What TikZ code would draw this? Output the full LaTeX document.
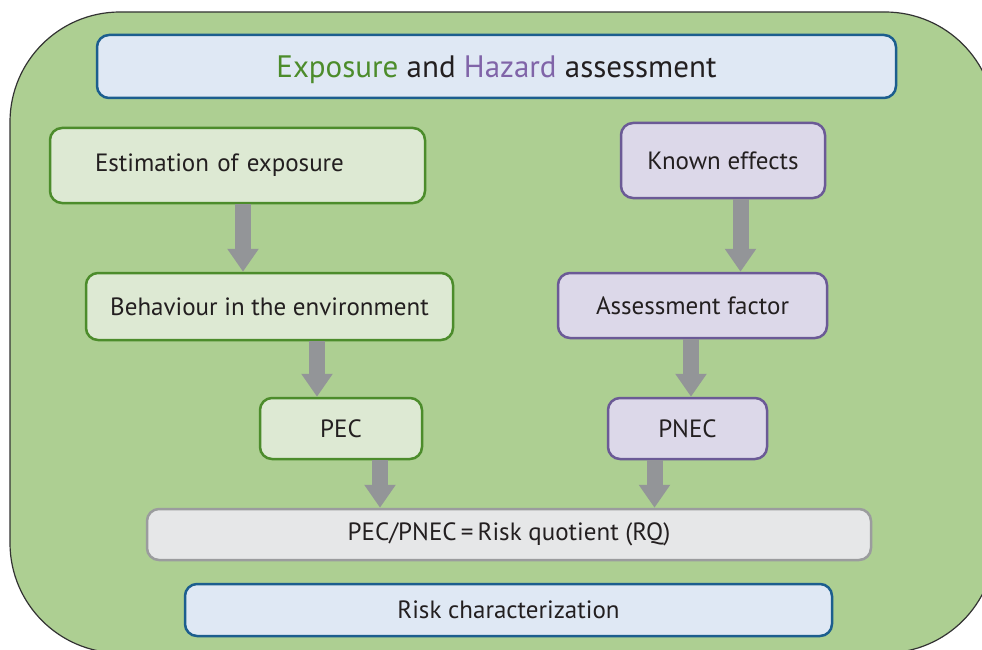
\documentclass[tikz,border=0pt]{standalone}
\usepackage{fontspec}
\setmainfont{PT Sans}
\usetikzlibrary{arrows.meta, positioning}
\definecolor{bgouter}{RGB}{173, 207, 146}
\definecolor{greenfill}{RGB}{221, 233, 211}
\definecolor{greenline}{RGB}{76, 140, 43}
\definecolor{purplefill}{RGB}{220, 216, 233}
\definecolor{purpleline}{RGB}{107, 90, 150}
\definecolor{bluefill}{RGB}{223, 232, 244}
\definecolor{blueline}{RGB}{28, 94, 142}
\definecolor{grayfill}{RGB}{230, 231, 232}
\definecolor{grayline}{RGB}{155, 156, 158}
\definecolor{arrowgray}{RGB}{147, 149, 152}
\definecolor{textdark}{RGB}{35, 31, 32}
\definecolor{hazardpurple}{RGB}{128, 100, 168}
\tikzset{
    greenbox/.style={rectangle, draw=greenline, fill=greenfill, text=textdark, line width=2.5pt, rounded corners=12pt, align=center, font=\fontsize{25}{30}\selectfont},
    purplebox/.style={rectangle, draw=purpleline, fill=purplefill, text=textdark, line width=2.5pt, rounded corners=12pt, align=center, font=\fontsize{25}{30}\selectfont},
    bluebox/.style={rectangle, draw=blueline, fill=bluefill, text=textdark, line width=2.5pt, rounded corners=12pt, align=center, font=\fontsize{25}{30}\selectfont},
    graybox/.style={rectangle, draw=grayline, fill=grayfill, text=textdark, line width=2.5pt, rounded corners=12pt, align=center, font=\fontsize{25}{30}\selectfont},
    arrow/.style={-{Triangle[length=23pt, width=30pt]}, arrowgray, line width=16pt}
}
\begin{document}
\begin{tikzpicture}[x=1pt, y=-1pt]
    \useasboundingbox (0,0) rectangle (982,650);
    \begin{scope}
        \clip (0,0) rectangle (982,650);
        \node (outer) [rectangle, draw=black!80, fill=bgouter, line width=1.2pt, rounded corners=110pt, minimum width=985pt, minimum height=641pt] at (502.5,332.5) {};
    \end{scope}

    \node (title) [bluebox, minimum width=799pt, minimum height=63pt, text depth=0pt, font=\fontsize{31}{36}\selectfont] at (496.5,66.5) {\textcolor{greenline}{Exposure} and \textcolor{hazardpurple}{Hazard} assessment};

    \node (est) [greenbox, minimum width=375pt, minimum height=75pt, text width=285pt, inner xsep=45pt, align=left] at (237.5,165.5) {Estimation of exposure};
    \node (beh) [greenbox, minimum width=367pt, minimum height=67pt] at (269.5,306.5) {Behaviour in the environment};
    \node (pec) [greenbox, minimum width=162pt, minimum height=61pt] at (341,428.5) {PEC};

    \node (known) [purplebox, minimum width=204pt, minimum height=75pt] at (723,160.5) {Known effects};
    \node (afac) [purplebox, minimum width=269pt, minimum height=65pt] at (692.5,305.5) {Assessment factor};
    \node (pnec) [purplebox, minimum width=159pt, minimum height=61pt] at (687.5,428.5) {PNEC};

    \node (rq) [graybox, minimum width=724pt, minimum height=51pt] at (509,534.5) {PEC/PNEC\,=\,Risk quotient (RQ)};
    \node (risk) [bluebox, minimum width=647pt, minimum height=52pt] at (508.5,610) {Risk characterization};

    \draw [arrow] ([xshift=5.5pt]est.south) -- ([xshift=5.5pt]est.south |- beh.north);
    \draw [arrow] ([xshift=47.5pt]beh.south) -- ([xshift=47.5pt]beh.south |- pec.north);
    \draw [arrow] ([xshift=17.5pt]known.south) -- ([xshift=17.5pt]known.south |- afac.north);
    \draw [arrow] ([xshift=-1.5pt]afac.south) -- ([xshift=-1.5pt]afac.south |- pnec.north);
    \draw [arrow] ([xshift=39pt]pec.south) -- ([xshift=39pt]pec.south |- rq.north);
    \draw [arrow] ([xshift=-33pt]pnec.south) -- ([xshift=-33pt]pnec.south |- rq.north);
\end{tikzpicture}
\end{document}
